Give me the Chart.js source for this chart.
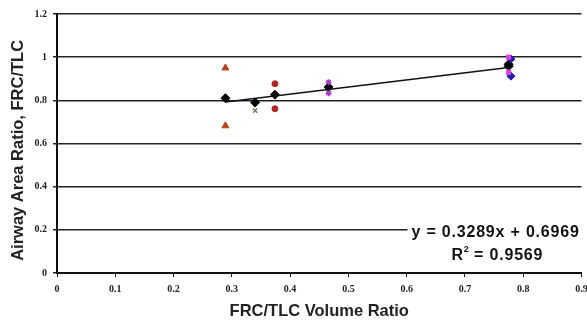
<!DOCTYPE html>
<html>
<head>
<meta charset="utf-8">
<script src="https://cdn.jsdelivr.net/npm/chart.js@4/dist/chart.umd.min.js"></script>
<style>
  html, body { margin: 0; padding: 0; background: #fff; }
  canvas { display: block; }
</style>
</head>
<body>
<canvas id="chart" width="587" height="322"></canvas>
<script>
// data
const xTicks = [0, 0.1, 0.2, 0.3, 0.4, 0.5, 0.6, 0.7, 0.8, 0.9];
const yTicks = [0, 0.2, 0.4, 0.6, 0.8, 1, 1.2];

// group means (black)
const meanX = [0.289, 0.340, 0.374, 0.466, 0.775, 0.775];
const meanY = [0.810, 0.790, 0.826, 0.862, 0.967, 0.958];

// individual subjects
const triX = [0.289, 0.289];
const triY = [0.950, 0.682];
const grayX = [0.340];
const grayY = [0.752];
const redX = [0.374, 0.374];
const redY = [0.877, 0.761];
const purpleX = [0.466, 0.466];
const purpleY = [0.884, 0.833];
const magentaX = [0.775, 0.775];
const magentaY = [1.0, 0.930];
const blueX = [0.779, 0.779];
const blueY = [0.991, 0.912];

// linear fit
const slope = 0.3289;
const intercept = 0.6969;
const fitRange = [0.289, 0.775];
const eqText = 'y = 0.3289x + 0.6969';
const r2Text = '0.9569';

function pts(xs, ys) {
  return xs.map((x, i) => ({ x: x, y: ys[i] }));
}

const fitData = fitRange.map(x => ({ x: x, y: slope * x + intercept }));

// draws the trendline equation with a white box behind it
const eqLabel = {
  id: 'eqLabel',
  afterDatasetsDraw(chart) {
    const ctx = chart.ctx;
    const a = chart.chartArea;
    const big = 'bold 16px "Liberation Sans", Arial, sans-serif';
    ctx.save();
    ctx.fillStyle = '#fff';
    ctx.fillRect(a.right - 174, a.bottom - 52, chart.width - a.right + 174, 38);
    ctx.fillStyle = '#111';
    ctx.textBaseline = 'middle';
    ctx.font = big;
    ctx.letterSpacing = '0.8px';
    ctx.textAlign = 'left';
    ctx.fillText(eqText, a.right - 170, a.bottom - 40);
    const rx = a.right - 130;
    const ry = a.bottom - 17;
    ctx.fillText('R', rx, ry);
    const rw = ctx.measureText('R').width;
    ctx.font = 'bold 9px "Liberation Sans", Arial, sans-serif';
    ctx.letterSpacing = '0px';
    ctx.fillText('2', rx + rw, ry - 6);
    ctx.font = big;
    ctx.letterSpacing = '0.8px';
    ctx.fillText(' = ' + r2Text, rx + rw + 5, ry);
    ctx.restore();
  }
};

const tickFont = { family: '"Liberation Serif", "Times New Roman", serif', size: 10, weight: 'bold' };

new Chart(document.getElementById('chart'), {
  type: 'scatter',
  data: {
    datasets: [
      { type: 'line', data: fitData, borderColor: '#111', borderWidth: 1.5, pointRadius: 0, fill: false },
      { data: pts(triX, triY), pointStyle: 'triangle', pointRadius: 4, backgroundColor: '#b8401c', borderColor: '#b8401c' },
      { data: pts(grayX, grayY), pointStyle: 'crossRot', pointRadius: 3, borderWidth: 1.5, borderColor: '#7c7c68', backgroundColor: '#7c7c68' },
      { data: pts(redX, redY), pointStyle: 'circle', pointRadius: 3, backgroundColor: '#b02424', borderColor: '#b02424' },
      { data: pts(purpleX, purpleY), pointStyle: 'star', pointRadius: 3, borderWidth: 1.5, borderColor: '#a83cc8', backgroundColor: '#a83cc8' },
      { data: pts(magentaX, magentaY), pointStyle: 'rect', pointRadius: 3, backgroundColor: '#e040e8', borderColor: '#e040e8' },
      { data: pts(blueX, blueY), pointStyle: 'rectRot', pointRadius: 4, backgroundColor: '#2020a8', borderColor: '#2020a8' },
      { data: pts(meanX, meanY), pointStyle: 'rectRot', pointRadius: 4.5, backgroundColor: '#000', borderColor: '#000' }
    ]
  },
  options: {
    responsive: false,
    animation: false,
    layout: { padding: { top: 14, right: 1, left: 0, bottom: 0 } },
    plugins: { legend: { display: false }, tooltip: { enabled: false } },
    scales: {
      x: {
        type: 'linear',
        min: 0,
        max: 0.9,
        afterBuildTicks: s => { s.ticks = xTicks.map(v => ({ value: v })); },
        afterFit: s => { s.height = 49; s.paddingLeft = 0; s.paddingRight = 0; },
        border: { color: '#111', width: 2 },
        grid: { drawOnChartArea: false, color: '#111', tickLength: 4, tickWidth: 1 },
        ticks: { font: tickFont, color: '#222', padding: 6, maxRotation: 0, callback: v => String(v) },
        title: { display: true, text: 'FRC/TLC Volume Ratio', color: '#222', padding: { top: 8, bottom: 1 },
          font: { family: '"Liberation Sans", Arial, sans-serif', size: 16.5, weight: 'bold' } }
      },
      y: {
        min: 0,
        max: 1.2,
        afterBuildTicks: s => { s.ticks = yTicks.map(v => ({ value: v })); },
        afterFit: s => { s.width = 57; s.paddingTop = 0; s.paddingBottom = 0; },
        border: { color: '#111', width: 2 },
        grid: { color: '#222', lineWidth: 1.5, tickLength: 4 },
        ticks: { font: tickFont, color: '#222', padding: 6, callback: v => String(v) },
        title: { display: true, text: 'Airway Area Ratio, FRC/TLC\u00a0\u00a0\u00a0', color: '#222', padding: { top: 9, bottom: 0 },
          font: { family: '"Liberation Sans", Arial, sans-serif', size: 16.5, weight: 'bold' } }
      }
    }
  },
  plugins: [eqLabel]
});
</script>
</body>
</html>
